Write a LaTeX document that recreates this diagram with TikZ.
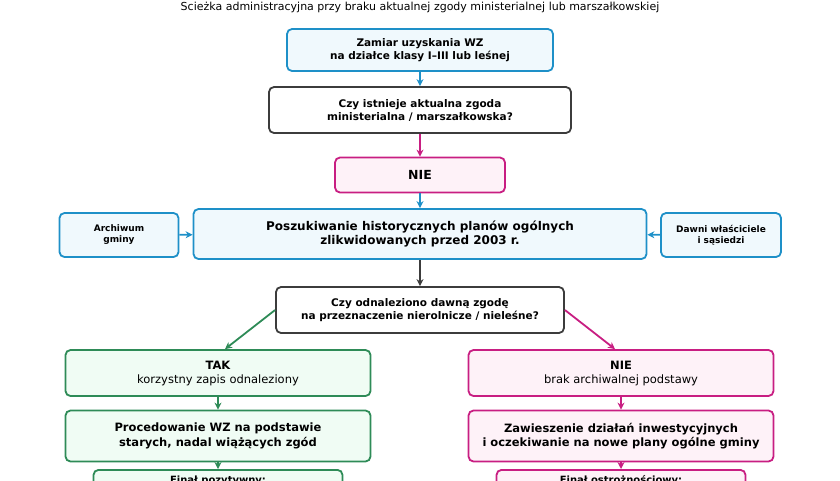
\documentclass[tikz,border=0pt]{standalone}
\usepackage{fontspec}
\setmainfont{DejaVu Sans}
\usetikzlibrary{arrows.meta}
\definecolor{bluB}{RGB}{30,144,200}
\definecolor{bluF}{RGB}{240,249,253}
\definecolor{magB}{RGB}{200,30,130}
\definecolor{magF}{RGB}{254,242,248}
\definecolor{grnB}{RGB}{46,139,87}
\definecolor{grnF}{RGB}{240,252,244}
\definecolor{grayB}{RGB}{60,60,60}

\tikzset{
  box/.style={draw, rounded corners=5pt, line width=1.8pt, align=center, font=\bfseries\fontsize{10.5}{13}\selectfont, inner sep=0pt},
  bluebox/.style={box, draw=bluB, fill=bluF},
  magbox/.style={box, draw=magB, fill=magF},
  grnbox/.style={box, draw=grnB, fill=grnF},
  graybox/.style={box, draw=grayB, fill=white},
  arr/.style={-{Stealth[length=7pt,width=7pt]}, line width=1.8pt}
}

\begin{document}
\begin{tikzpicture}[x=1pt,y=-1pt]
\useasboundingbox (0,0) rectangle (840,480);
\clip (0,0) rectangle (840,480);
\node (title) at (420,7) {\fontsize{11}{13}\selectfont Scieżka administracyjna przy braku aktualnej zgody ministerialnej lub marszałkowskiej};

\node [bluebox, minimum width=266pt, minimum height=42pt] (start) at (420,50) {Zamiar uzyskania WZ\\na działce klasy I–III lub leśnej};
\node [graybox, minimum width=302pt, minimum height=46pt] (q1) at (420,110) {Czy istnieje aktualna zgoda\\ministerialna / marszałkowska?};
\node [magbox, minimum width=170pt, minimum height=35pt, font=\bfseries\fontsize{12.5}{15}\selectfont] (nie) at (420,175) {NIE};
\node [bluebox, minimum width=453pt, minimum height=50pt, font=\bfseries\fontsize{12}{14.5}\selectfont] (szuk) at (420,234) {Poszukiwanie historycznych planów ogólnych\\zlikwidowanych przed 2003 r.};
\node [bluebox, minimum width=119pt, minimum height=44pt, font=\bfseries\fontsize{9}{11}\selectfont] (arch) at (119,235) {Archiwum\\gminy};
\node [bluebox, minimum width=120pt, minimum height=44pt, font=\bfseries\fontsize{9}{11}\selectfont] (wlasc) at (721,235) {Dawni właściciele\\i sąsiedzi};
\node [graybox, minimum width=288pt, minimum height=46pt] (q2) at (420,310) {Czy odnaleziono dawną zgodę\\na przeznaczenie nierolnicze / nieleśne?};

\node [grnbox, minimum width=305pt, minimum height=46pt, font=\bfseries\fontsize{11.5}{14}\selectfont] (tak) at (218,373) {TAK\\\mdseries korzystny zapis odnaleziony};
\node [grnbox, minimum width=305pt, minimum height=51pt, font=\bfseries\fontsize{11.5}{14.5}\selectfont] (proc) at (218,436) {Procedowanie WZ na podstawie\\starych, nadal wiążących zgód};
\node [grnbox, minimum width=249pt, minimum height=32pt, anchor=north, font=\bfseries\fontsize{10}{12}\selectfont] (finP) at (218,469) {Finał pozytywny:\\ \phantom{x}};

\node [magbox, minimum width=305pt, minimum height=46pt, font=\bfseries\fontsize{11.5}{14}\selectfont] (brak) at (621,373) {NIE\\\mdseries brak archiwalnej podstawy};
\node [magbox, minimum width=305pt, minimum height=51pt, font=\bfseries\fontsize{11.5}{14.5}\selectfont] (zaw) at (621,436) {Zawieszenie działań inwestycyjnych\\i oczekiwanie na nowe plany ogólne gminy};
\node [magbox, minimum width=249pt, minimum height=32pt, anchor=north, font=\bfseries\fontsize{10}{12}\selectfont] (finO) at (621,469) {Finał ostrożnościowy:\\ \phantom{x}};

% connectors
\draw [arr, bluB] (start) -- (q1);
\draw [arr, magB] (q1) -- (nie);
\draw [arr, bluB] (nie) -- (szuk);
\draw [arr, bluB] (arch) -- (szuk);
\draw [arr, bluB] (wlasc) -- (szuk);
\draw [arr, grayB] (szuk) -- (q2);
\draw [arr, grnB] (q2.west) -- (tak.north -| 225,0);
\draw [arr, magB] (q2.east) -- (brak.north -| 615,0);
\draw [arr, grnB] (tak) -- (proc);
\draw [arr, grnB] (proc) -- (finP);
\draw [arr, magB] (brak) -- (zaw);
\draw [arr, magB] (zaw) -- (finO);
\end{tikzpicture}
\end{document}
